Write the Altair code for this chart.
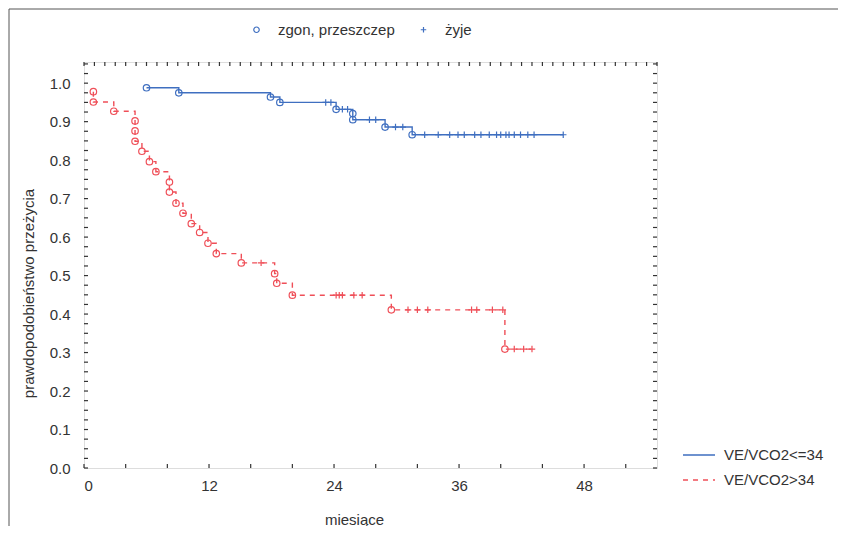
import altair as alt
import pandas as pd

BLUE = "#3f6fc0"
RED = "#ef4f58"
INK = "#333333"
FONT = "Liberation Sans"

groups = ["VE/VCO2<=34", "VE/VCO2>34"]
marker_types = ["zgon, przeszczep", "żyje"]

# VE/VCO2<=34 : event times (deaths / transplants) and survival after each step
blue_event_t = [6.0, 9.1, 17.9, 18.8, 24.2, 25.8, 25.8, 28.9, 31.5]
blue_event_s = [0.988, 0.975, 0.964, 0.950, 0.932, 0.921, 0.905, 0.886, 0.866]
blue_cens_t = [23.2, 23.7, 24.8, 25.3, 27.4, 28.0, 29.9, 30.6, 32.7, 34.0, 35.1,
               35.9, 36.5, 37.5, 38.1, 38.9, 39.6, 40.0, 40.5, 40.8, 41.3, 41.9,
               42.6, 43.2, 46.0]

# VE/VCO2>34
red_event_t = [0.9, 0.9, 2.86, 4.9, 4.9, 4.9, 5.56, 6.28, 6.9, 8.2, 8.2, 8.83, 9.5,
               10.3, 11.1, 11.9, 12.7, 15.1, 18.3, 18.5, 20.0, 29.5, 40.4]
red_event_s = [0.978, 0.951, 0.927, 0.902, 0.876, 0.849, 0.823, 0.796, 0.770, 0.743,
               0.717, 0.688, 0.662, 0.635, 0.612, 0.584, 0.557, 0.533, 0.505, 0.480,
               0.449, 0.411, 0.309]
red_cens_t = [17.0, 24.2, 24.5, 24.8, 25.9, 26.7, 31.1, 32.0, 33.0, 37.2, 37.7,
              39.2, 40.2, 41.3, 42.2, 43.0]

x_ticks = [0, 12, 24, 36, 48]
y_ticks = [0.0, 0.1, 0.2, 0.3, 0.4, 0.5, 0.6, 0.7, 0.8, 0.9, 1.0]


def surv_at(t, ev_t, ev_s):
    s = 1.0
    for et, es in zip(ev_t, ev_s):
        if et <= t:
            s = es
    return s


line_rows, mark_rows = [], []
for g, et, es, ct in [(groups[0], blue_event_t, blue_event_s, blue_cens_t),
                      (groups[1], red_event_t, red_event_s, red_cens_t)]:
    i = 0
    for t, s in zip(et, es):
        line_rows.append({"t": t, "s": s, "grupa": g, "i": i})
        mark_rows.append({"t": t, "s": s, "grupa": g, "typ": marker_types[0]})
        i += 1
    end_t = max(ct)
    line_rows.append({"t": end_t, "s": surv_at(end_t, et, es), "grupa": g, "i": i})
    for t in ct:
        mark_rows.append({"t": t, "s": surv_at(t, et, es), "grupa": g, "typ": marker_types[1]})

lines = pd.DataFrame(line_rows)
marks = pd.DataFrame(mark_rows)

W, H = 573, 406
xs = alt.Scale(domain=[0, 55], nice=False, zero=False)
ys = alt.Scale(domain=[0, 1.055], nice=False, zero=False)

PLUS = "M-1,0L1,0M0,-1L0,1"
LONG_STROKE = "M-2,0L2,0"

group_legend = alt.Legend(title=None, orient="none", legendX=606, legendY=384,
                          symbolType=LONG_STROKE, symbolSize=256,
                          symbolStrokeWidth=1.5, labelFontSize=15,
                          labelFont=FONT, labelColor=INK, rowPadding=8,
                          labelOffset=16, padding=0)

line_layer = alt.Chart(lines).mark_line(interpolate="step-after", strokeWidth=1.4).encode(
    x=alt.X("t:Q", scale=xs, axis=alt.Axis(
        values=x_ticks, title="miesiące", grid=False, ticks=False, domain=False,
        labelFontSize=15, labelPadding=10, labelColor=INK, labelFont=FONT,
        titleFont=FONT, titleFontSize=15, titleFontWeight="normal", titleColor=INK,
        titleX=270, titleY=51, titleAnchor="middle", titleBaseline="middle")),
    y=alt.Y("s:Q", scale=ys, axis=alt.Axis(
        values=y_ticks, format=".1f", title="prawdopodobieństwo przeżycia", grid=False,
        ticks=False, domain=False, labelFontSize=15, labelPadding=14, labelColor=INK,
        labelFont=FONT, titleFont=FONT, titleFontSize=15, titleFontWeight="normal",
        titleColor=INK, titleX=-56, titleY=231, titleAngle=-90, titleBaseline="middle")),
    color=alt.Color("grupa:N", scale=alt.Scale(domain=groups, range=[BLUE, RED]),
                    legend=group_legend),
    strokeDash=alt.StrokeDash("grupa:N", scale=alt.Scale(domain=groups, range=[[1, 0], [5, 5]]),
                              legend=group_legend),
    order="i:Q",
)

shape_legend = alt.Legend(title=None, orient="none", legendX=165, legendY=-40,
                          direction="horizontal", symbolStrokeColor=BLUE,
                          symbolFillColor="transparent", symbolStrokeWidth=1.2,
                          symbolSize=30, labelFontSize=15, labelFont=FONT,
                          labelColor=INK, labelOffset=14, columnPadding=21, padding=0)


def marker_layer(g, col):
    return alt.Chart(marks).transform_filter(alt.datum.grupa == g).mark_point(
        filled=False, strokeWidth=1.2, size=42, color=col, opacity=1).encode(
        x=alt.X("t:Q", scale=xs),
        y=alt.Y("s:Q", scale=ys),
        shape=alt.Shape("typ:N", scale=alt.Scale(domain=marker_types, range=["circle", PLUS]),
                        legend=shape_legend),
    )


one = pd.DataFrame({"k": [0]})
frame = alt.Chart(one).mark_rect(fill="transparent", stroke="#555555", strokeWidth=1).encode(
    x=alt.value(-75), x2=alt.value(800), y=alt.value(-53), y2=alt.value(520))

tick_top = pd.DataFrame({"t": list(range(0, 56))})
tick_bottom = pd.DataFrame({"t": list(range(0, 56, 4))})
tick_y = pd.DataFrame({"s": [round(0.025 * k, 3) for k in range(0, 43)]})
TK = dict(color=INK, strokeWidth=1.2)
ticks = [
    alt.Chart(tick_bottom).mark_rule(**TK).encode(x=alt.X("t:Q", scale=xs), y=alt.value(H), y2=alt.value(H - 4)),
    alt.Chart(tick_top).mark_rule(**TK).encode(x=alt.X("t:Q", scale=xs), y=alt.value(0), y2=alt.value(4)),
    alt.Chart(tick_y).mark_rule(**TK).encode(y=alt.Y("s:Q", scale=ys), x=alt.value(0), x2=alt.value(4)),
    alt.Chart(tick_y).mark_rule(**TK).encode(y=alt.Y("s:Q", scale=ys), x=alt.value(W), x2=alt.value(W - 4)),
]

chart = alt.layer(
    frame, *ticks, line_layer, marker_layer(groups[0], BLUE), marker_layer(groups[1], RED)
).properties(
    width=W, height=H,
    autosize=alt.AutoSizeParams(type="none"),
    padding={"left": 76, "top": 54, "right": 181, "bottom": 58},
).configure_view(
    stroke=INK, strokeWidth=1.8
).configure(background="white")

chart.save("out.html", embed_options={"renderer": "svg", "actions": False})
